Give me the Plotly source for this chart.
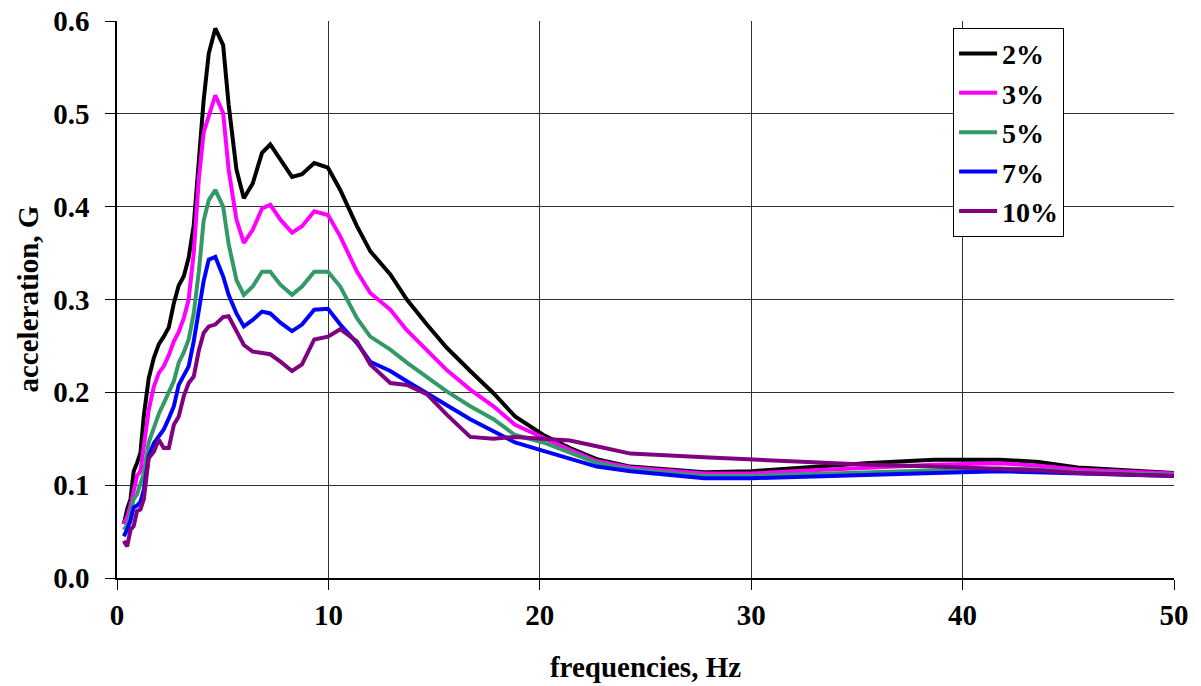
import plotly.graph_objects as go

freq = [0.32, 0.48, 0.64, 0.79, 0.95, 1.11, 1.27, 1.50, 1.74, 1.98, 2.21, 2.45, 2.69, 2.92,
        3.16, 3.39, 3.63, 3.87, 4.10, 4.34, 4.65, 5.02, 5.28, 5.65, 6.00, 6.42, 6.86, 7.25,
        7.73, 8.28, 8.75, 9.33, 9.98, 10.56, 11.35, 11.98, 12.93, 13.71, 14.66, 15.60, 16.71,
        17.81, 18.83, 20.17, 21.43, 22.69, 24.29, 27.78, 30.03, 32.92, 35.59, 38.67, 41.75,
        43.60, 45.44, 50.0]

damp_2 = [0.058, 0.074, 0.085, 0.115, 0.124, 0.135, 0.175, 0.215, 0.237, 0.252, 0.260, 0.270,
          0.296, 0.315, 0.325, 0.345, 0.380, 0.450, 0.515, 0.565, 0.592, 0.574, 0.510, 0.440,
          0.409, 0.425, 0.458, 0.467, 0.450, 0.432, 0.435, 0.447, 0.442, 0.418, 0.379, 0.352,
          0.327, 0.300, 0.273, 0.248, 0.223, 0.199, 0.174, 0.154, 0.140, 0.128, 0.120, 0.114,
          0.115, 0.120, 0.124, 0.1275, 0.1275, 0.125, 0.119, 0.113]

damp_3 = [0.058, 0.066, 0.078, 0.095, 0.110, 0.115, 0.142, 0.181, 0.206, 0.221, 0.228, 0.240,
          0.255, 0.265, 0.280, 0.300, 0.350, 0.430, 0.480, 0.497, 0.520, 0.501, 0.440, 0.386,
          0.361, 0.375, 0.398, 0.402, 0.386, 0.372, 0.379, 0.395, 0.391, 0.368, 0.330, 0.307,
          0.289, 0.267, 0.246, 0.224, 0.203, 0.185, 0.165, 0.151, 0.138, 0.126, 0.119, 0.1125,
          0.1125, 0.116, 0.119, 0.122, 0.1235, 0.121, 0.117, 0.1125]

damp_5 = [0.052, 0.057, 0.070, 0.085, 0.090, 0.100, 0.113, 0.146, 0.163, 0.177, 0.188, 0.199,
          0.212, 0.232, 0.243, 0.257, 0.285, 0.330, 0.385, 0.407, 0.418, 0.400, 0.360, 0.321,
          0.305, 0.314, 0.330, 0.330, 0.316, 0.305, 0.314, 0.330, 0.330, 0.314, 0.280, 0.260,
          0.246, 0.232, 0.217, 0.201, 0.185, 0.171, 0.154, 0.146, 0.135, 0.124, 0.117, 0.110,
          0.110, 0.112, 0.114, 0.116, 0.118, 0.117, 0.114, 0.111]

damp_7 = [0.045, 0.052, 0.062, 0.076, 0.078, 0.082, 0.095, 0.131, 0.145, 0.153, 0.160, 0.172,
          0.185, 0.208, 0.218, 0.228, 0.255, 0.290, 0.320, 0.343, 0.346, 0.325, 0.305, 0.285,
          0.271, 0.278, 0.287, 0.285, 0.275, 0.266, 0.273, 0.289, 0.290, 0.273, 0.253, 0.233,
          0.223, 0.212, 0.199, 0.185, 0.171, 0.158, 0.146, 0.137, 0.129, 0.120, 0.115, 0.1075,
          0.1075, 0.109, 0.111, 0.113, 0.115, 0.114, 0.112, 0.110]

damp_10 = [0.040, 0.034, 0.052, 0.056, 0.072, 0.074, 0.085, 0.129, 0.136, 0.149, 0.140, 0.140,
           0.165, 0.174, 0.196, 0.210, 0.217, 0.245, 0.264, 0.271, 0.273, 0.281, 0.282, 0.266,
           0.251, 0.244, 0.242, 0.241, 0.233, 0.223, 0.230, 0.257, 0.260, 0.268, 0.255, 0.230,
           0.210, 0.208, 0.198, 0.176, 0.152, 0.150, 0.152, 0.150, 0.148, 0.142, 0.134, 0.130,
           0.1275, 0.125, 0.122, 0.120, 0.1175, 0.116, 0.113, 0.110]

series_names = ["2%", "3%", "5%", "7%", "10%"]
series_values = [damp_2, damp_3, damp_5, damp_7, damp_10]
series_colors = ["#000000", "#FF00FF", "#339966", "#0000FF", "#800080"]

x_title = "frequencies, Hz"
y_title = "acceleration, G"

FONT = "Liberation Serif"
FS = 29

fig = go.Figure()
for i, (name, vals, col) in enumerate(zip(series_names, series_values, series_colors)):
    fig.add_trace(go.Scatter(x=freq, y=vals, mode="lines", name=name,
                             legendgroup=f"g{i}",
                             line=dict(color=col, width=4)))

fig.update_layout(
    width=1201, height=686,
    paper_bgcolor="white", plot_bgcolor="white",
    margin=dict(l=116.5, r=26.5, t=21, b=107.5, autoexpand=False),
    font=dict(family=FONT, size=FS, color="black", weight="bold"),
    showlegend=True,
    legend=dict(x=0.791, y=0.988, xanchor="left", yanchor="top",
                bgcolor="white", bordercolor="black", borderwidth=1,
                font=dict(family=FONT, size=28, color="black", weight="bold"),
                tracegroupgap=0, itemwidth=38, traceorder="grouped"),
)
fig.add_annotation(text=y_title, xref="paper", yref="paper", x=0, y=0.5,
                   xanchor="center", yanchor="middle", xshift=-90, textangle=-90,
                   showarrow=False,
                   font=dict(family=FONT, size=FS, color="black", weight="bold"))
fig.update_xaxes(range=[0, 50], dtick=10, tick0=0,
                 showgrid=True, gridcolor="#303030", gridwidth=1,
                 showline=True, linecolor="black", linewidth=1.5,
                 ticks="outside", ticklen=10, tickcolor="black",
                 ticklabelstandoff=0,
                 zeroline=False,
                 title=dict(text=x_title, standoff=27,
                            font=dict(family=FONT, size=FS, weight="bold")))
fig.update_yaxes(range=[0, 0.6], dtick=0.1, tick0=0, tickformat=".1f",
                 showgrid=True, gridcolor="#303030", gridwidth=1,
                 showline=True, linecolor="black", linewidth=1.5,
                 ticks="outside", ticklen=10, tickcolor="black",
                 ticklabelstandoff=10,
                 zeroline=False)

fig.write_html("out.html",
               config={"displayModeBar": False},
               post_script="document.body.style.margin='0px';document.body.style.overflow='hidden';")
